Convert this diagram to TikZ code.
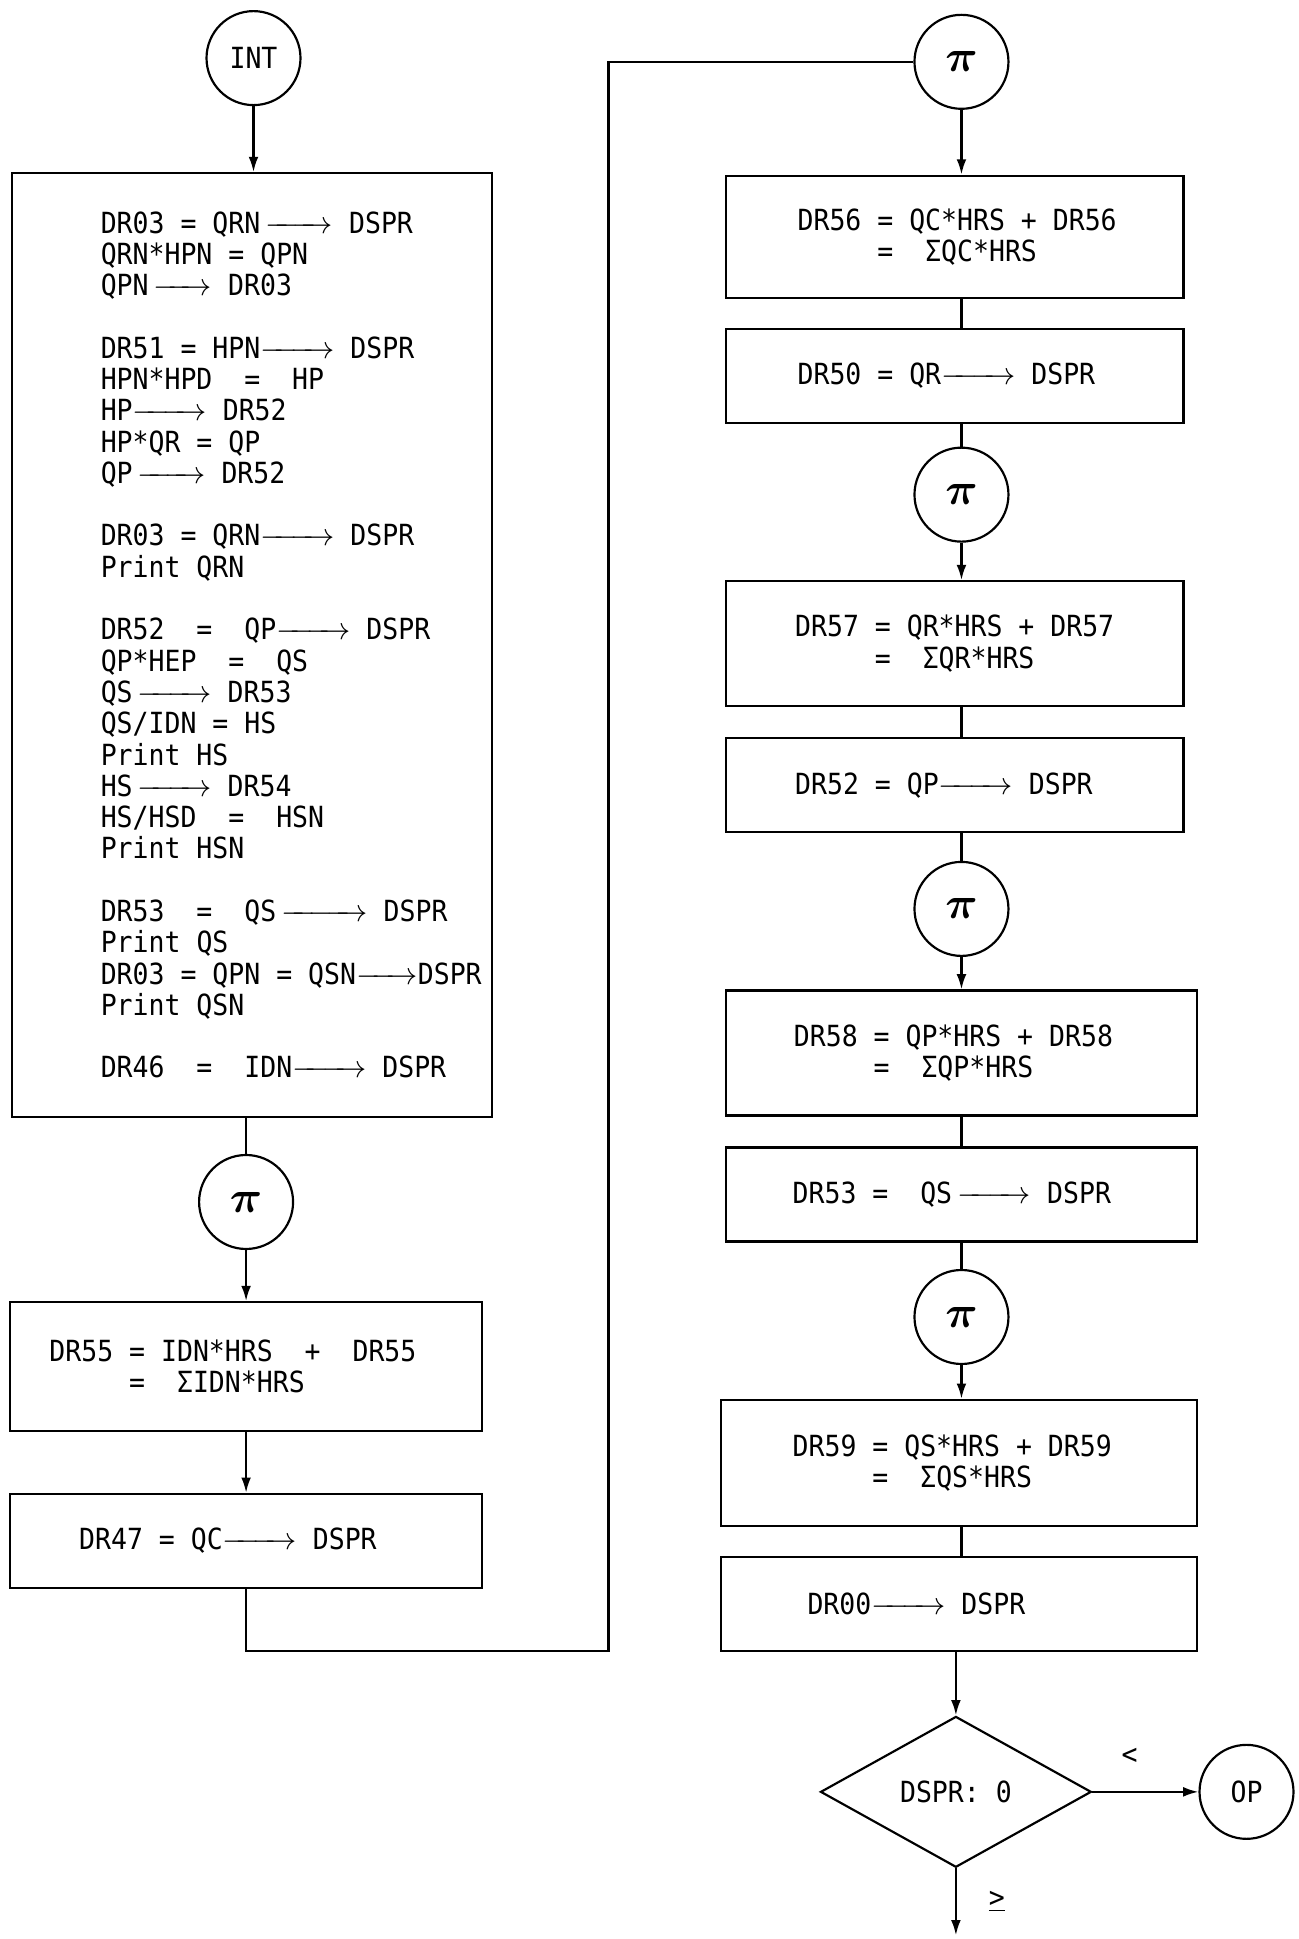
\documentclass[tikz,border=0pt]{standalone}
\usepackage{fontspec}
\usepackage{bm}
\newfontfamily\prfont[FakeStretch=0.91]{DejaVu Sans Mono}
\usetikzlibrary{arrows.meta, positioning, shapes.geometric, math}
\newcommand{\prt}{\prfont\fontsize{13.4pt}{14.4pt}\selectfont}
\newcommand{\toarr}[1]{\makebox[#1]{\rightarrowfill}}
\newcommand{\pisym}{{\fontsize{21pt}{21pt}\selectfont$\bm{\pi}$}}

\begin{document}
\begin{tikzpicture}[line width=1pt,
  >={Latex[length=7pt,width=4.5pt]},
  box/.style={draw, rectangle, inner sep=0pt},
  conn/.style={draw, circle, minimum size=1.52cm, inner sep=0pt, font=\prt},
  txt/.style={align=left, inner sep=0pt, font=\prt},
  dec/.style={draw, diamond, aspect=1.8, minimum width=4.38cm, minimum height=2.44cm, inner sep=0pt, font=\prt}]
\tikzmath{
\xl=3.98;
\xr=15.55;
}
\useasboundingbox (0,0) rectangle (21,-31.36);

\node[conn] (int) at (4.1,-0.94) {INT};
\node[box, minimum width=7.76cm, minimum height=15.26cm] (calc) at (4.08,-10.43) {};
\node[txt, right=1.43cm of calc.west] (calcT) {DR03 = QRN\,\toarr{1.1cm} DSPR\\
QRN*HPN = QPN\\
QPN\,\toarr{0.95cm} DR03\\[14.4pt]
DR51 = HPN\toarr{1.2cm} DSPR\\
HPN*HPD~~=~~HP\\
HP\toarr{1.2cm} DR52\\
HP*QR = QP\\
QP\,\toarr{1.1cm} DR52\\[14.4pt]
DR03 = QRN\toarr{1.2cm} DSPR\\
Print QRN\\[14.4pt]
DR52~~=~~QP\toarr{1.2cm} DSPR\\
QP*HEP~~=~~QS\\
QS\,\toarr{1.2cm} DR53\\
QS/IDN = HS\\
Print HS\\
HS\,\toarr{1.2cm} DR54\\
HS/HSD~~=~~HSN\\
Print HSN\\[14.4pt]
DR53~~=~~QS\,\toarr{1.4cm} DSPR\\
Print QS\\
DR03 = QPN = QSN\toarr{1.0cm}DSPR\\
Print QSN\\[14.4pt]
DR46~~=~~IDN\toarr{1.2cm} DSPR};

\node[conn] (piA) at (\xl,-19.44) {\pisym};
\node[box, minimum width=7.64cm, minimum height=2.08cm] (dr55) at (\xl,-22.1) {};
\node[txt, right=0.64cm of dr55.west] (dr55T) {DR55 = IDN*HRS~~+~~DR55\\\phantom{DR55 }=~~ΣIDN*HRS};
\node[box, minimum width=7.64cm, minimum height=1.52cm] (dr47) at (\xl,-24.92) {};
\node[txt, right=1.12cm of dr47.west] (dr47T) {DR47 = QC\toarr{1.2cm} DSPR};
\coordinate (loop) at (9.84,-26.7);

\node[conn] (piB) at (\xr,-1.0) {\pisym};
\node[box, minimum width=7.4cm, minimum height=1.98cm] (dr56) at (15.44,-3.83) {};
\node[txt, right=1.16cm of dr56.west] (dr56T) {DR56 = QC*HRS + DR56\\\phantom{DR56 }=~~ΣQC*HRS};
\node[box, minimum width=7.4cm, minimum height=1.52cm] (dr50) at (15.44,-6.08) {};
\node[txt, right=1.16cm of dr50.west] (dr50T) {DR50 = QR\toarr{1.2cm} DSPR};
\node[conn] (piC) at (\xr,-8.0) {\pisym};
\node[box, minimum width=7.4cm, minimum height=2.02cm] (dr57) at (15.44,-10.41) {};
\node[txt, right=1.12cm of dr57.west] (dr57T) {DR57 = QR*HRS + DR57\\\phantom{DR57 }=~~ΣQR*HRS};
\node[box, minimum width=7.4cm, minimum height=1.52cm] (dr52) at (15.44,-12.7) {};
\node[txt, right=1.12cm of dr52.west] (dr52T) {DR52 = QP\toarr{1.2cm} DSPR};
\node[conn] (piD) at (\xr,-14.7) {\pisym};
\node[box, minimum width=7.62cm, minimum height=2.02cm] (dr58) at (15.55,-17.03) {};
\node[txt, right=1.1cm of dr58.west] (dr58T) {DR58 = QP*HRS + DR58\\\phantom{DR58 }=~~ΣQP*HRS};
\node[box, minimum width=7.62cm, minimum height=1.52cm] (dr53) at (15.55,-19.32) {};
\node[txt, right=1.08cm of dr53.west] (dr53T) {DR53 =~~QS\,\toarr{1.2cm} DSPR};
\node[conn] (piE) at (\xr,-21.3) {\pisym};
\node[box, minimum width=7.7cm, minimum height=2.04cm] (dr59) at (15.51,-23.66) {};
\node[txt, right=1.16cm of dr59.west] (dr59T) {DR59 = QS*HRS + DR59\\\phantom{DR59 }=~~ΣQS*HRS};
\node[box, minimum width=7.7cm, minimum height=1.52cm] (dr00) at (15.51,-25.94) {};
\node[txt, right=1.4cm of dr00.west] (dr00T) {DR00\toarr{1.2cm} DSPR};
\node[dec] (test) at (15.46,-28.98) {DSPR: 0};
\node[conn] (op) at (20.16,-28.98) {OP};
\coordinate (exit) at (15.46,-31.3);

\draw[->] (int) -- (int |- calc.north);
\draw (calc.south -| piA) -- (piA);
\draw[->] (piA) -- (piA |- dr55.north);
\draw[->] (dr55) -- (dr47);
\draw (dr47.south) |- (loop) |- (piB.west);

\draw[->] (piB) -- (piB |- dr56.north);
\draw (dr56.south -| piB) -- (dr50.north -| piB);
\draw (dr50.south -| piC) -- (piC);
\draw[->] (piC) -- (piC |- dr57.north);
\draw (dr57.south -| piC) -- (dr52.north -| piC);
\draw (dr52.south -| piD) -- (piD);
\draw[->] (piD) -- (piD |- dr58.north);
\draw (dr58.south -| piD) -- (dr53.north -| piD);
\draw (dr53.south -| piE) -- (piE);
\draw[->] (piE) -- (piE |- dr59.north);
\draw (dr59.south -| piE) -- (dr00.north -| piE);
\draw[->] (dr00.south -| test) -- (test);
\draw[->] (test) -- (op) node[pos=0.35, above=0.3cm, font=\prt] {<};
\draw[->] (test) -- (exit) node[midway, right=0.4cm, font=\prt] {\underline{>}};
\end{tikzpicture}
\end{document}
